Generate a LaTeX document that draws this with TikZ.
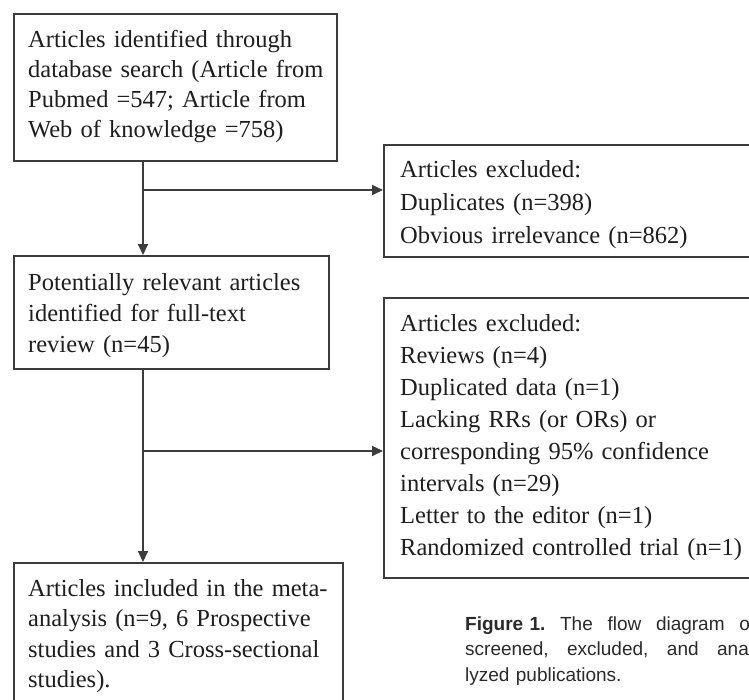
\documentclass[tikz,border=0pt]{standalone}
\usepackage{fontspec}
\setmainfont{Liberation Serif}
\newfontfamily\capfont{Liberation Sans}
\usetikzlibrary{arrows.meta}
\definecolor{linegray}{HTML}{3C3C3C}
\definecolor{textgray}{HTML}{1E1E1E}
\definecolor{capgray}{HTML}{2A2A2A}
\newcommand{\capline}[1]{\hbox to 290pt{#1}}
\begin{document}
\begin{tikzpicture}[x=1pt,y=-1pt,
  box/.style={draw=linegray, line width=1.8pt, rectangle, inner sep=0pt, anchor=north west},
  txt/.style={anchor=base west, inner sep=0pt, text width=#1, align=left,
              font=\fontsize{24.5}{31}\selectfont, text=textgray},
  conn/.style={draw=linegray, line width=1.8pt},
  arr/.style={conn, -{Triangle[length=11pt,width=10pt]}}
]
\useasboundingbox (0,0) rectangle (749,699);
\fill[white] (0,0) rectangle (749,699);

% boxes
\node[box, minimum width=323pt, minimum height=147pt] (b1) at (13,13) {};
\node[box, minimum width=377pt, minimum height=112pt] (b3) at (383,144) {};
\node[box, minimum width=315pt, minimum height=113pt] (b2) at (13,255) {};
\node[box, minimum width=377pt, minimum height=280pt] (b4) at (383,297) {};
\node[box, minimum width=329pt, minimum height=160pt] (b5) at (13,562) {};

% texts
\node[txt=320pt, font=\fontsize{24.5}{30}\selectfont] (t1) at (28,47) {Articles identified through\\database search (Article from\\Pubmed =547; Article from\\Web of knowledge =758)};
\node[txt=350pt, font=\fontsize{24.5}{33}\selectfont] (t3) at (400,177) {Articles excluded:\\Duplicates (n=398)\\Obvious irrelevance (n=862)};
\node[txt=310pt] (t2) at (28,290) {Potentially relevant articles\\identified for full-text\\review (n=45)};
\node[txt=350pt, font=\fontsize{24.5}{32}\selectfont] (t4) at (400,331) {Articles excluded:\\Reviews (n=4)\\Duplicated data (n=1)\\Lacking RRs (or ORs) or\\corresponding 95\% confidence\\intervals (n=29)\\Letter to the editor (n=1)\\Randomized controlled trial (n=1)};
\node[txt=320pt, font=\fontsize{24.5}{30.5}\selectfont] (t5) at (28,596) {Articles included in the meta-\\analysis (n=9, 6 Prospective\\studies and 3 Cross-sectional\\studies).};

% connectors
\coordinate (trunk) at (143,0);
\coordinate (br1) at (0,190);
\coordinate (br2) at (0,451);
\draw[arr] (b1.south -| trunk) -- (b2.north -| trunk);
\draw[arr] (br1 -| trunk) -- (br1 -| b3.west);
\draw[arr] (b2.south -| trunk) -- (b5.north -| trunk);
\draw[arr] (br2 -| trunk) -- (br2 -| b4.west);

% caption
\node[anchor=base west, inner sep=0pt, text width=290pt, text=capgray,
      font=\capfont\fontsize{19}{25.5}\selectfont] (cap) at (465,630)
  {\capline{\textbf{Figure 1.}\hfill The\hfill flow\hfill diagram\hfill of}\par
   \capline{screened,\hfill excluded,\hfill and\hfill ana-}\par
   \capline{lyzed publications.\hfil}};
\end{tikzpicture}
\end{document}
